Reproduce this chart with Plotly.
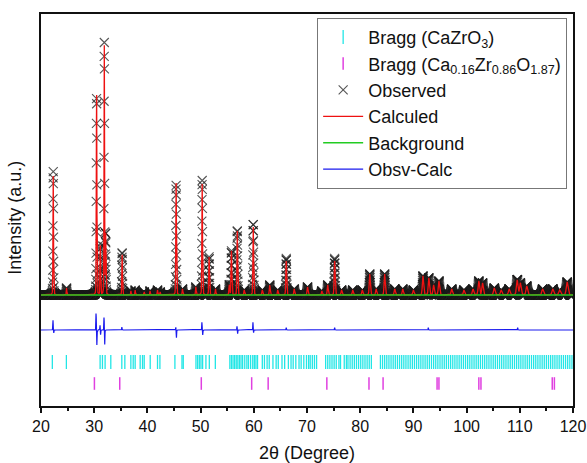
import numpy as np
import plotly.graph_objects as go

# ---------------- data ----------------
two_theta_start, two_theta_stop, two_theta_step = 20.0, 120.0, 0.02
background_level = 400.0

# calculated-profile peaks: position (deg), height above background (counts), FWHM (deg)
peak_pos = [22.3, 24.8, 30.45, 31.15, 31.9, 32.15, 35.25, 36.9, 37.7, 39.4, 40.5, 41.9, 42.4,
            45.4, 46.6, 49.1, 50.3, 51.6, 52.8, 55.4, 55.8, 56.9, 58.2, 59.9, 61.6, 63.0,
            64.5, 66.1, 67.6, 70.1, 72.8, 73.9, 75.2, 76.5, 78.6, 80.4, 81.8, 83.0, 84.6,
            86.5, 88.0, 90.0, 91.8, 92.9, 93.8, 94.8, 97.2, 99.5, 101.2, 102.3, 103.0,
            105.2, 106.5, 108.0, 109.5, 110.1, 111.3, 114.3, 116.2, 117.5, 118.9]
peak_height = [4760, 280, 8160, 2000, 9960, 2400, 1640, 160, 200, 120, 160, 200, 120,
               4480, 240, 320, 4440, 1520, 240, 400, 1760, 2560, 200, 2720, 200, 400,
               200, 1360, 240, 320, 160, 400, 1360, 200, 200, 200, 840, 240, 840,
               240, 240, 200, 760, 680, 400, 560, 240, 200, 240, 560, 480,
               280, 200, 240, 600, 480, 360, 240, 240, 200, 520]
peak_fwhm = [0.12, 0.12, 0.12, 0.12, 0.12, 0.12, 0.13, 0.13, 0.13, 0.13, 0.13, 0.13, 0.13,
             0.14, 0.14, 0.14, 0.14, 0.15, 0.15, 0.16, 0.16, 0.16, 0.16, 0.16, 0.18, 0.18,
             0.18, 0.18, 0.18, 0.2, 0.2, 0.2, 0.2, 0.22, 0.22, 0.22, 0.23, 0.23, 0.23,
             0.24, 0.24, 0.26, 0.26, 0.26, 0.26, 0.28, 0.28, 0.28, 0.3, 0.3, 0.3,
             0.32, 0.32, 0.33, 0.33, 0.33, 0.34, 0.36, 0.36, 0.38, 0.38]

# difference-curve features: position (deg), signed amplitude (counts)
diff_offset = -1000.0
diff_pos = [22.25, 22.4, 30.35, 30.5, 31.1, 31.2, 31.85, 31.97, 35.2, 45.35, 45.45,
            50.25, 50.4, 56.85, 56.95, 59.85, 59.95, 66.1, 75.2, 92.8, 109.6]
diff_amp = [400, -120, 680, -600, 200, -200, 520, -600, 120, 120, -320,
            320, -200, 160, -160, 320, -120, 100, 100, 100, 100]

# Bragg reflection positions
bragg_cazro3 = [22.13, 24.77, 31.11, 31.55, 32.05, 33.12, 35.19, 35.76, 36.89, 37.33, 37.7,
                38.64, 39.08, 39.4, 40.53, 41.9, 42.35, 45.17, 46.5, 46.74, 49.13, 49.44,
                49.76, 50.07, 50.38, 51.0, 51.64, 52.77, 55.5, 55.8, 56.1, 56.4, 56.7, 57.0,
                57.3, 57.6, 57.9, 58.3, 58.7, 59.0, 59.4, 59.8, 60.1, 60.4, 60.7, 61.6, 62.0,
                62.5, 62.9, 63.6, 64.2, 64.6, 65.3, 65.8, 66.5, 67.0, 67.4, 67.9, 68.5, 68.9,
                69.4, 69.9, 70.3, 70.6, 71.0, 71.4, 71.8, 73.5, 73.9, 74.3, 74.7, 75.1,
                75.5, 76.0, 76.3, 77.0, 77.4, 77.7, 78.1, 78.5, 78.9, 79.3, 79.7, 80.1,
                80.5, 80.9, 81.3, 81.7, 82.1, 83.8, 84.2, 84.6, 85.0, 85.4, 85.8, 86.2,
                86.6, 87.0, 87.4, 87.8, 88.2, 88.6, 89.0, 89.4, 89.8, 90.2, 90.6, 91.0,
                91.4, 91.8, 92.2, 92.6, 93.0, 93.4, 93.8, 94.2, 94.6, 95.0, 95.4, 95.8,
                96.2, 96.6, 97.0, 97.4, 97.8, 98.2, 98.6, 99.0, 99.4, 99.8, 100.2, 100.6,
                101.0, 101.4, 101.8, 102.2, 102.6, 103.0, 103.4, 103.8, 104.2, 104.6,
                105.0, 105.4, 105.8, 106.2, 106.6, 107.0, 107.4, 107.8, 108.2, 108.6,
                109.0, 109.4, 109.8, 110.2, 110.6, 111.0, 111.4, 111.8, 112.2, 112.6,
                113.0, 113.4, 113.8, 114.2, 114.6, 115.0, 115.4, 115.8, 116.2, 116.6,
                117.0, 117.4, 117.8, 118.2, 118.6, 119.0, 119.4, 119.8]
bragg_zro2 = [30.04, 34.8, 50.13, 59.6, 62.7, 73.73, 81.65, 84.3, 94.45, 94.8,
              102.3, 102.7, 116.1, 116.5]
bragg_cazro3_level = -2280.0
bragg_zro2_level = -3140.0

# ---------------- build profiles from the peak list ----------------
tth = np.arange(two_theta_start, two_theta_stop + 1e-9, two_theta_step)
calc = np.full_like(tth, background_level)
for p, h, w in zip(peak_pos, peak_height, peak_fwhm):
    s = w / 2.3548
    calc += h * (0.8 * np.exp(-0.5 * ((tth - p) / s) ** 2) + 0.2 / (1 + ((tth - p) / (w / 2)) ** 2))
diff = np.full_like(tth, diff_offset)
for p, a in zip(diff_pos, diff_amp):
    diff += a * np.exp(-0.5 * ((tth - p) / 0.04) ** 2)
obs = calc + (diff - diff_offset)
bg = np.full_like(tth, background_level)

font = "Liberation Sans, Arial, sans-serif"
fig = go.Figure()

fig.add_trace(go.Scatter(x=bragg_cazro3, y=[bragg_cazro3_level] * len(bragg_cazro3), mode="markers",
                         name="Bragg (CaZrO<sub>3</sub>)",
                         marker=dict(symbol="line-ns", size=10, line=dict(width=1.3, color="#22e6e6"))))
fig.add_trace(go.Scatter(x=bragg_zro2, y=[bragg_zro2_level] * len(bragg_zro2), mode="markers",
                         name="Bragg (Ca<sub>0.16</sub>Zr<sub>0.86</sub>O<sub>1.87</sub>)",
                         marker=dict(symbol="line-ns", size=9, line=dict(width=1.5, color="#e040e0"))))
fig.add_trace(go.Scatter(x=tth, y=obs, mode="markers", name="Observed",
                         marker=dict(symbol="x-thin", size=9, color="#222222",
                                     line=dict(width=1.1, color="rgba(30,30,30,0.75)"))))
fig.add_trace(go.Scatter(x=tth, y=calc, mode="lines", name="Calculed",
                         line=dict(color="#ee1111", width=1.3)))
fig.add_trace(go.Scatter(x=tth, y=bg, mode="lines", name="Background",
                         line=dict(color="#22cc22", width=1.5)))
fig.add_trace(go.Scatter(x=tth, y=diff, mode="lines", name="Obsv-Calc",
                         line=dict(color="#1a1aee", width=1.2)))

fig.update_layout(
    width=587, height=463,
    margin=dict(l=41, r=14, t=14, b=57),
    paper_bgcolor="white", plot_bgcolor="white",
    font=dict(family=font, color="#111111"),
    showlegend=True,
    legend=dict(x=0.989, y=0.99, xanchor="right", yanchor="top",
                bgcolor="white", bordercolor="#777777", borderwidth=1,
                font=dict(size=18, family=font), tracegroupgap=0, itemwidth=40),
    xaxis=dict(range=[20, 120], tickmode="array", tickvals=list(range(20, 121, 10)),
               ticks="outside", ticklen=5, tickwidth=1.5, tickcolor="#111111",
               minor=dict(tickvals=list(range(25, 120, 10)), ticks="outside", ticklen=3,
                          tickwidth=1.5, tickcolor="#111111"),
               showline=True, linecolor="#111111", linewidth=2, mirror=True,
               showgrid=False, zeroline=False, tickfont=dict(size=16), automargin=False),
    yaxis=dict(range=[-4040, 11640], showticklabels=False, ticks="",
               showline=True, linecolor="#111111", linewidth=2, mirror=True,
               showgrid=False, zeroline=False, automargin=False),
    annotations=[
        dict(text="2θ (Degree)", xref="paper", yref="paper", x=0.5, y=-0.12,
             xanchor="center", yanchor="middle", showarrow=False, font=dict(size=18)),
        dict(text="Intensity (a.u.)", xref="paper", yref="paper", x=-0.049, y=0.48,
             xanchor="center", yanchor="middle", textangle=-90, showarrow=False,
             font=dict(size=18)),
    ],
)

fig.write_html("out.html")
